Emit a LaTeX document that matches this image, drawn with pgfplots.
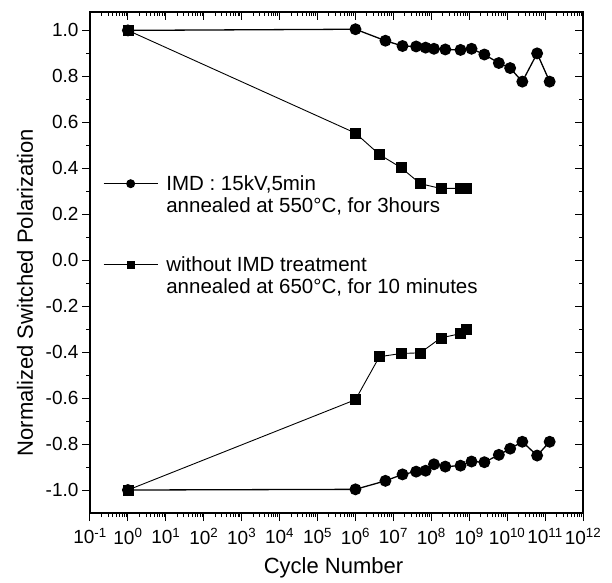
\documentclass[border=0pt]{standalone}
\usepackage{fontspec}
\setmainfont{Liberation Sans}
\usepackage{pgfplots}
\pgfplotsset{compat=1.18}

\pgfplotstableread{
x y
1 1.0
1e6 1.005
6.17e6 0.955
1.74e7 0.932
3.98e7 0.930
7.08e7 0.925
1.175e8 0.920
2.34e8 0.917
5.89e8 0.915
1.15e9 0.920
2.51e9 0.895
6.03e9 0.858
1.2e10 0.836
2.51e10 0.777
6.17e10 0.900
1.32e11 0.777
}\imdup

\pgfplotstableread{
x y
1 -1.0
1e6 -0.997
6.17e6 -0.960
1.74e7 -0.932
3.98e7 -0.920
7.08e7 -0.916
1.175e8 -0.888
2.34e8 -0.898
5.89e8 -0.894
1.15e9 -0.876
2.51e9 -0.879
6.03e9 -0.847
1.2e10 -0.820
2.51e10 -0.790
6.17e10 -0.850
1.32e11 -0.790
}\imddown

\pgfplotstableread{
x y
1 1.0
1e6 0.553
4.27e6 0.460
1.58e7 0.403
5.13e7 0.333
1.78e8 0.312
5.75e8 0.313
8.13e8 0.313
}\woup

\pgfplotstableread{
x y
1 -1.0
1e6 -0.607
4.27e6 -0.420
1.58e7 -0.406
5.13e7 -0.403
1.78e8 -0.338
5.75e8 -0.320
8.13e8 -0.300
}\wodown

\def\minorlist{2e-1,3e-1,4e-1,5e-1,6e-1,7e-1,8e-1,9e-1,
2e0,3e0,4e0,5e0,6e0,7e0,8e0,9e0,
2e1,3e1,4e1,5e1,6e1,7e1,8e1,9e1,
2e2,3e2,4e2,5e2,6e2,7e2,8e2,9e2,
2e3,3e3,4e3,5e3,6e3,7e3,8e3,9e3,
2e4,3e4,4e4,5e4,6e4,7e4,8e4,9e4,
2e5,3e5,4e5,5e5,6e5,7e5,8e5,9e5,
2e6,3e6,4e6,5e6,6e6,7e6,8e6,9e6,
2e7,3e7,4e7,5e7,6e7,7e7,8e7,9e7,
2e8,3e8,4e8,5e8,6e8,7e8,8e8,9e8,
2e9,3e9,4e9,5e9,6e9,7e9,8e9,9e9,
2e10,3e10,4e10,5e10,6e10,7e10,8e10,9e10,
2e11,3e11,4e11,5e11,6e11,7e11,8e11,9e11}

\begin{document}
\begin{tikzpicture}
\useasboundingbox (-90pt,-69pt) rectangle (522pt,513pt);
\begin{axis}[
  scale only axis, width=493pt, height=501pt,
  at={(0pt,0pt)}, anchor=south west,
  xmode=log, log basis x=10,
  xmin=0.1, xmax=1e12, ymin=-1.1, ymax=1.08,
  xtick={0.1,1,10,100,1000,1e4,1e5,1e6,1e7,1e8,1e9,1e10,1e11,1e12},
  minor xtick/.expanded={\minorlist},
  ytick={-1,-0.8,-0.6,-0.4,-0.2,0,0.2,0.4,0.6,0.8,1},
  minor y tick num=1,
  major tick length=8pt, minor tick length=4pt,
  every tick/.style={black, line width=1pt},
  axis line style={line width=1.3pt},
  tick align=outside, xtick pos=left, ytick pos=left,
  xticklabel={10\textsuperscript{\pgfmathparse{int(round(\tick))}\pgfmathresult}},
  x tick label style={font=\fontsize{19}{21}\selectfont, yshift=-4pt},
  y tick label style={font=\fontsize{19}{21}\selectfont,
    /pgf/number format/.cd, fixed, fixed zerofill, precision=1, assume math mode=true, /tikz/.cd},
  xlabel={Cycle Number},
  ylabel={Normalized Switched Polarization},
  label style={font=\fontsize{22}{26}\selectfont},
  xlabel style={at={(axis description cs:0.494,-0.11)}, anchor=center},
  ylabel style={at={(axis description cs:-0.132,0.44)}, anchor=center},
  legend style={draw=none, fill=none, inner sep=0pt,
    at={(axis description cs:0.026,0.674)}, anchor=north west,
    font=\fontsize{20.5}{24}\selectfont, row sep=6pt,
    nodes={inner sep=0pt},
    /tikz/every odd column/.append style={column sep=8pt}},
  legend cell align=left,
  legend image code/.code={\draw[mark repeat=2, mark phase=2, mark size=3.8pt]
    plot coordinates {(0pt,0pt) (27pt,0pt) (54pt,0pt)};},
]
\addplot[black, line width=1.3pt, mark=*, mark size=5.3pt] table[x=x,y=y] {\imdup};
\addlegendentry{IMD : 15kV,5min}
\addlegendimage{white, mark=none}
\addlegendentry{annealed at 550°C, for 3hours}
\addlegendimage{white, mark=none}
\addlegendentry{\rule{0pt}{29pt}}
\addplot[black, line width=0.9pt, mark=square*, mark size=5pt, mark options={line width=0.5pt}] table[x=x,y=y] {\woup};
\addlegendentry{without IMD treatment}
\addlegendimage{white, mark=none}
\addlegendentry{annealed at 650°C, for 10 minutes}
\addplot[black, line width=1.3pt, mark=*, mark size=5.3pt, forget plot] table[x=x,y=y] {\imddown};
\addplot[black, line width=0.9pt, mark=square*, mark size=5pt, mark options={line width=0.5pt}, forget plot] table[x=x,y=y] {\wodown};
\end{axis}
\begin{axis}[
  scale only axis, width=493pt, height=501pt,
  at={(0pt,0pt)}, anchor=south west,
  xmode=log, log basis x=10,
  xmin=0.1, xmax=1e12, ymin=-1.1, ymax=1.08,
  xtick={0.1,1,10,100,1000,1e4,1e5,1e6,1e7,1e8,1e9,1e10,1e11,1e12},
  minor xtick/.expanded={\minorlist},
  ytick={-1,-0.8,-0.6,-0.4,-0.2,0,0.2,0.4,0.6,0.8,1},
  minor y tick num=1,
  major tick length=8pt, minor tick length=4pt,
  every tick/.style={black, line width=1pt},
  axis line style={line width=1.3pt},
  tick align=inside, xtick pos=right, ytick pos=right,
  xticklabels={}, yticklabels={},
]
\end{axis}
\end{tikzpicture}
\end{document}
